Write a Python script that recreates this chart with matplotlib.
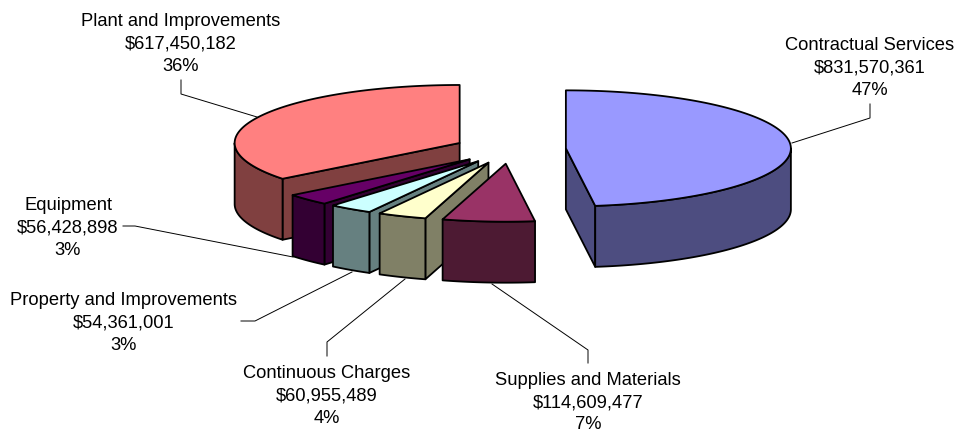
"""Exploded 3D pie of spending by category, drawn with plain polygons."""

import numpy as np
import matplotlib
matplotlib.use('Agg')
import matplotlib.pyplot as plt
from matplotlib.patches import Polygon

plt.rcParams['font.family'] = ['Liberation Sans', 'DejaVu Sans']

categories = ['Contractual Services', 'Supplies and Materials', 'Continuous Charges',
              'Property and Improvements', 'Equipment', 'Plant and Improvements']
values = [831570361, 114609477, 60955489, 54361001, 56428898, 617450182]
percents = ['47%', '7%', '4%', '3%', '3%', '36%']
top_colors = ['#9999FF', '#993366', '#FFFFCC', '#CCFFFF', '#660066', '#FF8080']
side_colors = ['#4D4D80', '#4D1A33', '#808066', '#668080', '#330033', '#804040']

# label centre, then the leader line
label_pos = [(870, 68), (588, 402.5), (327, 396), (124, 323), (68, 228), (181, 44)]
leaders = [
    [(792, 143), (870, 118), (870, 104)],
    [(492, 284), (588, 350), (588, 363)],
    [(405, 279), (327, 342), (327, 356)],
    [(352, 272), (255, 321), (241, 321)],
    [(293, 257), (135, 226), (123, 226)],
    [(257, 117), (181, 94), (181, 80)],
]

CX, CY = 510, 149.3
RX, RY = 225, 58
EXPLODE = 56
DEPTH = 61


def rim(cx, cy, a1, a2):
    """Points along the ellipse between two clockwise angles from 12 o'clock."""
    t = np.radians(np.linspace(a1, a2, max(int(abs(a2 - a1) * 2), 2)))
    return np.column_stack([cx + RX * np.sin(t), cy - RY * np.cos(t)])


def extrude(points):
    return np.vstack([points, (points + [0, DEPTH])[::-1]])


def draw_slice(ax, a1, a2, top, side):
    mid = np.radians((a1 + a2) / 2)
    cx = CX + EXPLODE * np.sin(mid)
    cy = CY - EXPLODE * RY / RX * np.cos(mid)
    apex = np.array([[cx, cy]])
    arc = rim(cx, cy, a1, a2)
    style = dict(edgecolor='black', linewidth=1.3, joinstyle='round')

    if np.sin(np.radians(a1)) < -1e-6:
        ax.add_patch(Polygon(extrude(np.vstack([apex, arc[:1]])), facecolor=side, **style))
    if np.sin(np.radians(a2)) > 1e-6:
        ax.add_patch(Polygon(extrude(np.vstack([apex, arc[-1:]])), facecolor=side, **style))
    lo, hi = max(a1, 90), min(a2, 270)
    if lo < hi:
        ax.add_patch(Polygon(extrude(rim(cx, cy, lo, hi)), facecolor=side, **style))
    ax.add_patch(Polygon(np.vstack([apex, arc]), facecolor=top, **style))


fig = plt.figure(figsize=(9.59, 4.32), dpi=100)
ax = fig.add_axes([0, 0, 1, 1])
ax.set_xlim(0, 959)
ax.set_ylim(432, 0)
ax.axis('off')

for line in leaders:
    xs, ys = zip(*line)
    ax.plot(xs, ys, color='black', linewidth=0.7, zorder=0)

edges = np.concatenate([[0], np.cumsum(values)]) / np.sum(values) * 360
for i in [5, 4, 3, 2, 1, 0]:
    draw_slice(ax, edges[i], edges[i + 1], top_colors[i], side_colors[i])

for name, val, pct, (x, y) in zip(categories, values, percents, label_pos):
    ax.text(x, y, f'{name}\n${val:,}\n{pct}', ha='center', va='center',
            fontsize=13.2, linespacing=1.42, color='black')

fig.savefig('out.png', dpi=100)
